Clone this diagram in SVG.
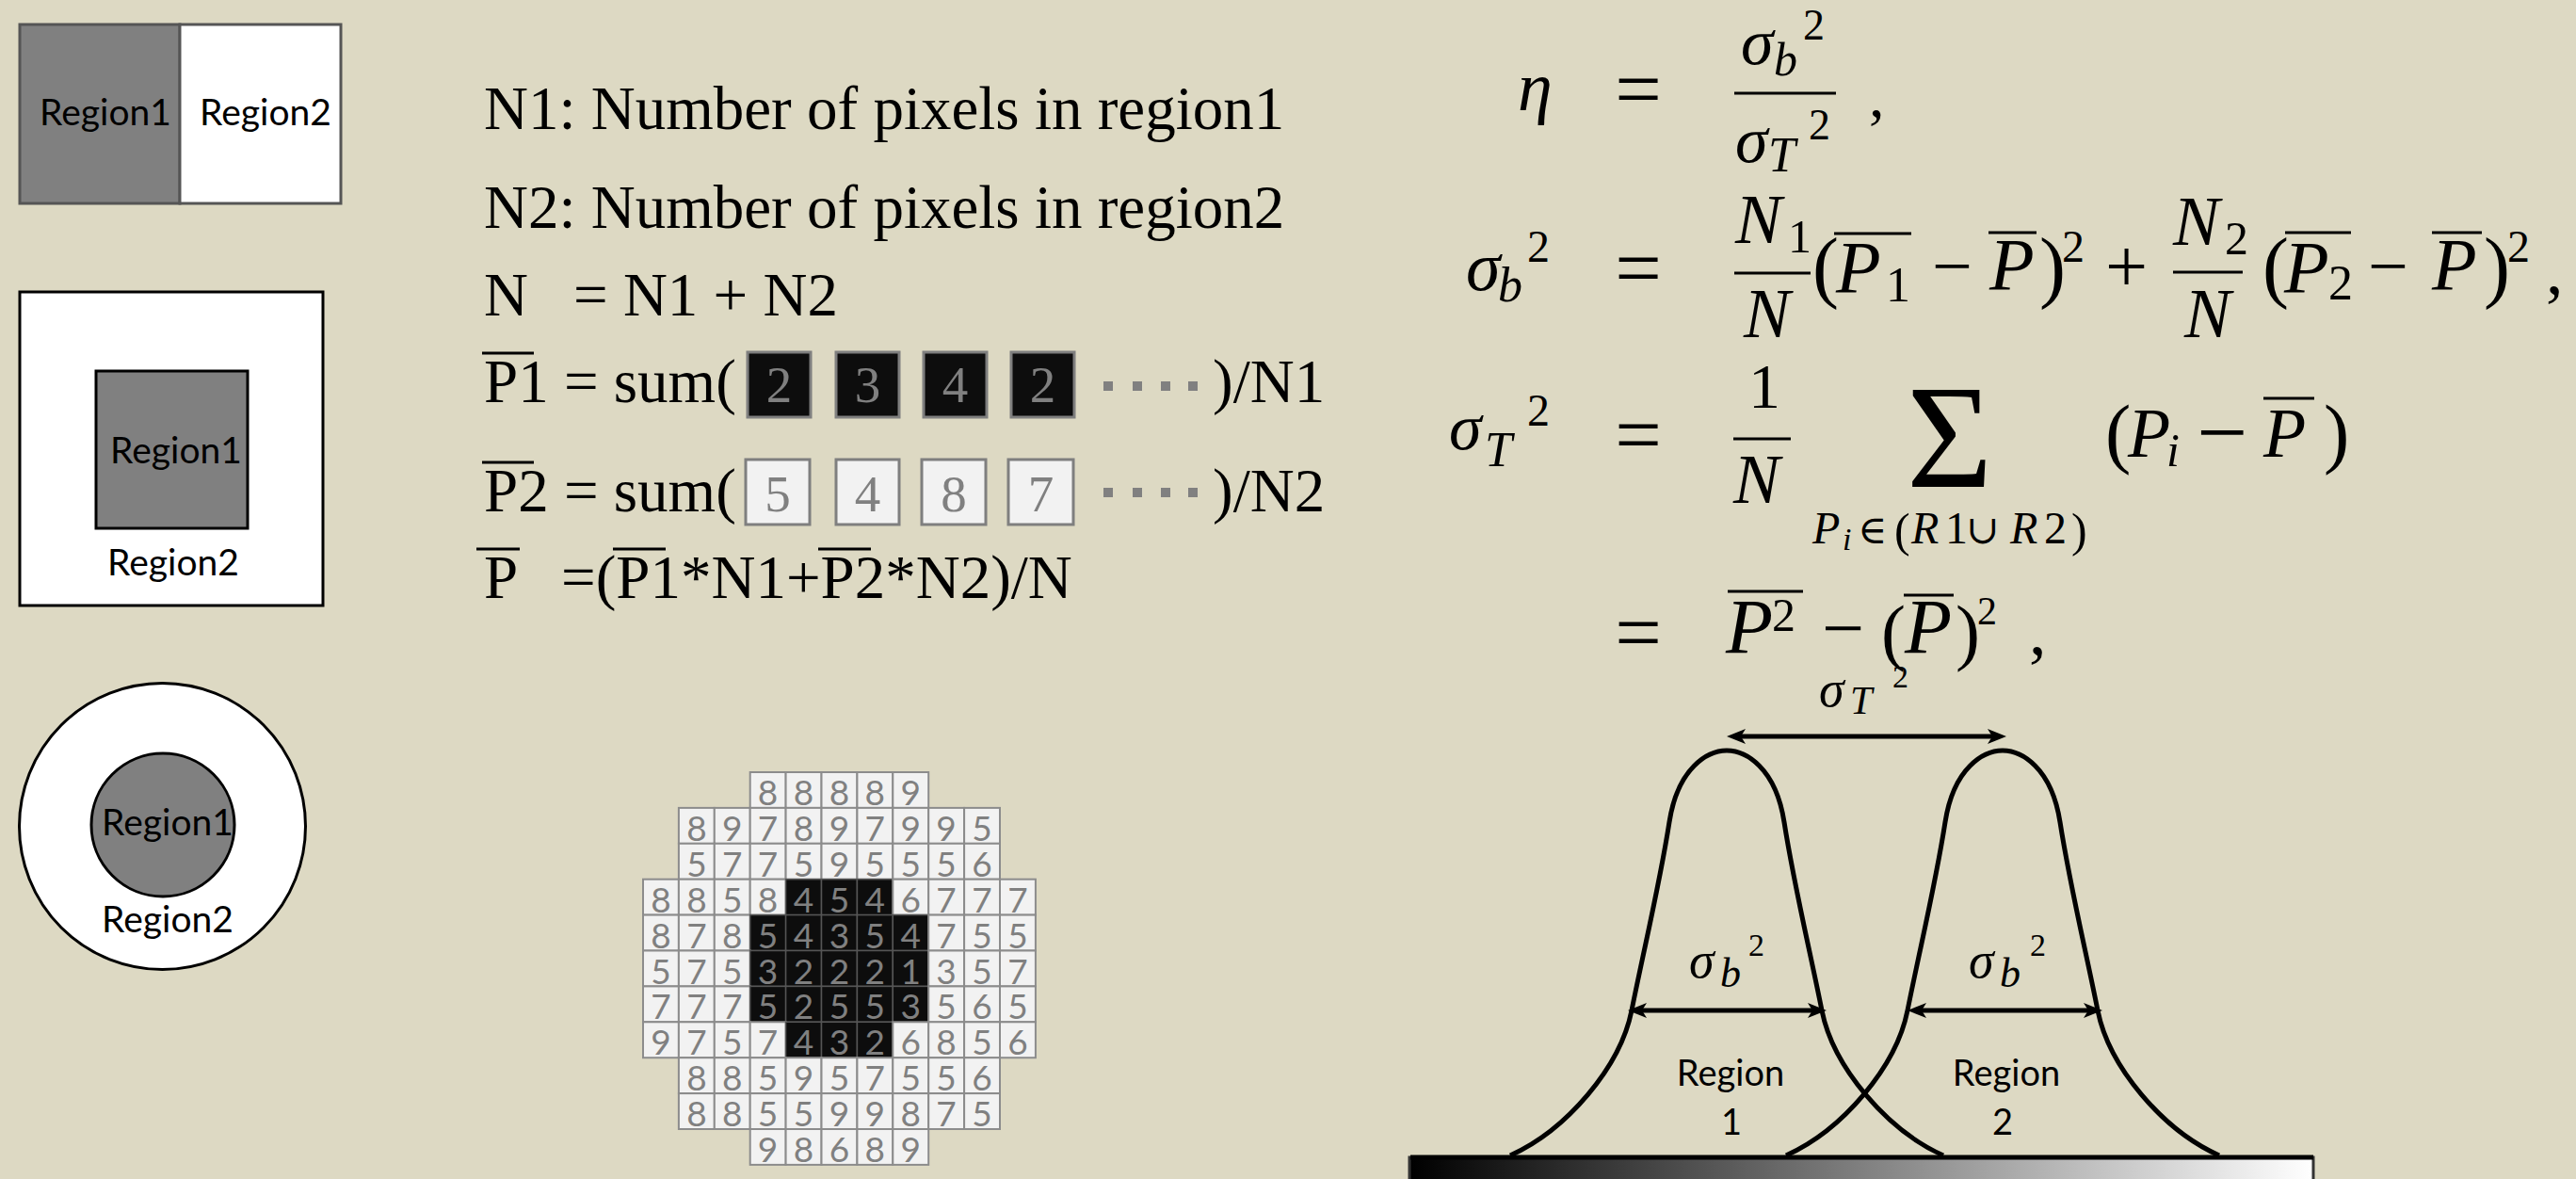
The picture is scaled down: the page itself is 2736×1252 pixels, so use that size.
<svg xmlns="http://www.w3.org/2000/svg" width="2736" height="1252" viewBox="0 0 2736 1252">
<defs>
<style>
.cal{font-family:Lato,"Open Sans","Liberation Sans",sans-serif;fill:#000}
.tm{font-family:"Liberation Serif","Times New Roman",serif;font-size:65px;fill:#000}
.mi{font-family:"Liberation Serif","Times New Roman",serif;font-style:italic;fill:#000}
.mr{font-family:"Liberation Serif","Times New Roman",serif;fill:#000}
.ms{font-family:"DejaVu Serif",serif;fill:#000}
.ov{stroke:#000;stroke-width:3}
.cl{fill:#f2f2f2;stroke:#8c8c8c;stroke-width:2}
.cd{fill:#0d0d0d;stroke:#555;stroke-width:1.5}
.dg{font-family:Lato,"Liberation Sans",sans-serif;font-size:37px;fill:#808080;text-anchor:middle}
.bxd{fill:#0d0d0d;stroke:#7f7f7f;stroke-width:3}
.bxl{fill:#f2f2f2;stroke:#7f7f7f;stroke-width:3}
.bt{font-family:"Liberation Serif",serif;font-size:55px;fill:#808080;text-anchor:middle}
.dot{fill:#808080}
.curve{fill:none;stroke:#000;stroke-width:5;stroke-linejoin:round}
.arr{stroke:#000;stroke-width:5;marker-start:url(#ah);marker-end:url(#ah)}
</style>
<marker id="ah" viewBox="0 0 20 16" refX="5" refY="8" markerWidth="20" markerHeight="16" markerUnits="userSpaceOnUse" orient="auto-start-reverse"><path d="M0,0 L20,8 L0,16 L5,8 Z" fill="#000"/></marker>
<linearGradient id="grad" x1="0" x2="1" y1="0" y2="0"><stop offset="0" stop-color="#000"/><stop offset="1" stop-color="#fff"/></linearGradient>
</defs>
<rect x="0" y="0" width="2736" height="1252" fill="#ddd9c3"/>

<g id="box-split">
<rect x="21" y="26" width="170" height="190" fill="#808080" stroke="#555" stroke-width="3"/>
<rect x="191" y="26" width="171" height="190" fill="#fff" stroke="#555" stroke-width="3"/>
<text class="cal" x="112" y="133" font-size="39" text-anchor="middle">Region1</text>
<text class="cal" x="282" y="133" font-size="39" text-anchor="middle">Region2</text>
</g>

<g id="box-nested">
<rect x="21" y="310" width="322" height="333" fill="#fff" stroke="#000" stroke-width="3"/>
<rect x="102" y="394" width="161" height="167" fill="#808080" stroke="#000" stroke-width="3"/>
<text class="cal" x="187" y="492" font-size="39" text-anchor="middle">Region1</text>
<text class="cal" x="184" y="611" font-size="39" text-anchor="middle">Region2</text>
</g>

<g id="circle-nested">
<circle cx="172.5" cy="877.5" r="152" fill="#fff" stroke="#000" stroke-width="3"/>
<circle cx="173" cy="876" r="76" fill="#808080" stroke="#000" stroke-width="3"/>
<text class="cal" x="178" y="887" font-size="39" text-anchor="middle">Region1</text>
<text class="cal" x="178" y="990" font-size="39" text-anchor="middle">Region2</text>
</g>

<g id="definitions">
<text class="tm" x="514" y="137">N1: Number of pixels in region1</text>
<text class="tm" x="514" y="242">N2: Number of pixels in region2</text>
<text class="tm" x="514" y="335">N</text>
<text class="tm" x="609" y="335">= N1 + N2</text>
<line class="ov" x1="512" y1="375" x2="567" y2="375"/>
<text class="tm" x="514" y="427">P1 = sum(</text>
<rect class="bxd" x="794" y="374" width="67" height="69"/>
<rect class="bxd" x="888" y="374" width="67" height="69"/>
<rect class="bxd" x="981" y="374" width="67" height="69"/>
<rect class="bxd" x="1074" y="374" width="67" height="69"/>
<text class="bt" x="827.5 921.5 1014.5 1107.5" y="427">2342</text>
<rect class="dot" x="1172" y="405" width="10" height="10"/>
<rect class="dot" x="1203" y="405" width="10" height="10"/>
<rect class="dot" x="1233" y="405" width="10" height="10"/>
<rect class="dot" x="1262" y="405" width="10" height="10"/>
<text class="tm" x="1288" y="427">)/N1</text>
<line class="ov" x1="512" y1="491" x2="567" y2="491"/>
<text class="tm" x="514" y="543">P2 = sum(</text>
<rect class="bxl" x="792" y="488" width="68" height="69"/>
<rect class="bxl" x="888" y="488" width="67" height="69"/>
<rect class="bxl" x="979" y="488" width="68" height="69"/>
<rect class="bxl" x="1071" y="488" width="69" height="69"/>
<text class="bt" x="826 921.5 1013 1105.5" y="543">5487</text>
<rect class="dot" x="1172" y="518" width="10" height="10"/>
<rect class="dot" x="1203" y="518" width="10" height="10"/>
<rect class="dot" x="1233" y="518" width="10" height="10"/>
<rect class="dot" x="1262" y="518" width="10" height="10"/>
<text class="tm" x="1288" y="543">)/N2</text>
<line class="ov" x1="506" y1="583" x2="552" y2="583"/>
<line class="ov" x1="651" y1="583" x2="707" y2="583"/>
<line class="ov" x1="869" y1="583" x2="925" y2="583"/>
<text class="tm" x="514" y="635">P</text>
<text class="tm" x="596" y="635">=(P1*N1+P2*N2)/N</text>
</g>

<g id="pixel-grid">
<rect class="cl" x="796.7" y="820" width="37.9" height="37.9"/><rect class="cl" x="834.6" y="820" width="37.9" height="37.9"/><rect class="cl" x="872.5" y="820" width="37.9" height="37.9"/><rect class="cl" x="910.4" y="820" width="37.9" height="37.9"/><rect class="cl" x="948.3" y="820" width="37.9" height="37.9"/>
<rect class="cl" x="720.9" y="857.9" width="37.9" height="37.9"/><rect class="cl" x="758.8" y="857.9" width="37.9" height="37.9"/><rect class="cl" x="796.7" y="857.9" width="37.9" height="37.9"/><rect class="cl" x="834.6" y="857.9" width="37.9" height="37.9"/><rect class="cl" x="872.5" y="857.9" width="37.9" height="37.9"/><rect class="cl" x="910.4" y="857.9" width="37.9" height="37.9"/><rect class="cl" x="948.3" y="857.9" width="37.9" height="37.9"/><rect class="cl" x="986.2" y="857.9" width="37.9" height="37.9"/><rect class="cl" x="1024.1" y="857.9" width="37.9" height="37.9"/>
<rect class="cl" x="720.9" y="895.8" width="37.9" height="37.9"/><rect class="cl" x="758.8" y="895.8" width="37.9" height="37.9"/><rect class="cl" x="796.7" y="895.8" width="37.9" height="37.9"/><rect class="cl" x="834.6" y="895.8" width="37.9" height="37.9"/><rect class="cl" x="872.5" y="895.8" width="37.9" height="37.9"/><rect class="cl" x="910.4" y="895.8" width="37.9" height="37.9"/><rect class="cl" x="948.3" y="895.8" width="37.9" height="37.9"/><rect class="cl" x="986.2" y="895.8" width="37.9" height="37.9"/><rect class="cl" x="1024.1" y="895.8" width="37.9" height="37.9"/>
<rect class="cl" x="683" y="933.7" width="37.9" height="37.9"/><rect class="cl" x="720.9" y="933.7" width="37.9" height="37.9"/><rect class="cl" x="758.8" y="933.7" width="37.9" height="37.9"/><rect class="cl" x="796.7" y="933.7" width="37.9" height="37.9"/><rect class="cd" x="834.6" y="933.7" width="37.9" height="37.9"/><rect class="cd" x="872.5" y="933.7" width="37.9" height="37.9"/><rect class="cd" x="910.4" y="933.7" width="37.9" height="37.9"/><rect class="cl" x="948.3" y="933.7" width="37.9" height="37.9"/><rect class="cl" x="986.2" y="933.7" width="37.9" height="37.9"/><rect class="cl" x="1024.1" y="933.7" width="37.9" height="37.9"/><rect class="cl" x="1062" y="933.7" width="37.9" height="37.9"/>
<rect class="cl" x="683" y="971.6" width="37.9" height="37.9"/><rect class="cl" x="720.9" y="971.6" width="37.9" height="37.9"/><rect class="cl" x="758.8" y="971.6" width="37.9" height="37.9"/><rect class="cd" x="796.7" y="971.6" width="37.9" height="37.9"/><rect class="cd" x="834.6" y="971.6" width="37.9" height="37.9"/><rect class="cd" x="872.5" y="971.6" width="37.9" height="37.9"/><rect class="cd" x="910.4" y="971.6" width="37.9" height="37.9"/><rect class="cd" x="948.3" y="971.6" width="37.9" height="37.9"/><rect class="cl" x="986.2" y="971.6" width="37.9" height="37.9"/><rect class="cl" x="1024.1" y="971.6" width="37.9" height="37.9"/><rect class="cl" x="1062" y="971.6" width="37.9" height="37.9"/>
<rect class="cl" x="683" y="1009.5" width="37.9" height="37.9"/><rect class="cl" x="720.9" y="1009.5" width="37.9" height="37.9"/><rect class="cl" x="758.8" y="1009.5" width="37.9" height="37.9"/><rect class="cd" x="796.7" y="1009.5" width="37.9" height="37.9"/><rect class="cd" x="834.6" y="1009.5" width="37.9" height="37.9"/><rect class="cd" x="872.5" y="1009.5" width="37.9" height="37.9"/><rect class="cd" x="910.4" y="1009.5" width="37.9" height="37.9"/><rect class="cd" x="948.3" y="1009.5" width="37.9" height="37.9"/><rect class="cl" x="986.2" y="1009.5" width="37.9" height="37.9"/><rect class="cl" x="1024.1" y="1009.5" width="37.9" height="37.9"/><rect class="cl" x="1062" y="1009.5" width="37.9" height="37.9"/>
<rect class="cl" x="683" y="1047.4" width="37.9" height="37.9"/><rect class="cl" x="720.9" y="1047.4" width="37.9" height="37.9"/><rect class="cl" x="758.8" y="1047.4" width="37.9" height="37.9"/><rect class="cd" x="796.7" y="1047.4" width="37.9" height="37.9"/><rect class="cd" x="834.6" y="1047.4" width="37.9" height="37.9"/><rect class="cd" x="872.5" y="1047.4" width="37.9" height="37.9"/><rect class="cd" x="910.4" y="1047.4" width="37.9" height="37.9"/><rect class="cd" x="948.3" y="1047.4" width="37.9" height="37.9"/><rect class="cl" x="986.2" y="1047.4" width="37.9" height="37.9"/><rect class="cl" x="1024.1" y="1047.4" width="37.9" height="37.9"/><rect class="cl" x="1062" y="1047.4" width="37.9" height="37.9"/>
<rect class="cl" x="683" y="1085.3" width="37.9" height="37.9"/><rect class="cl" x="720.9" y="1085.3" width="37.9" height="37.9"/><rect class="cl" x="758.8" y="1085.3" width="37.9" height="37.9"/><rect class="cl" x="796.7" y="1085.3" width="37.9" height="37.9"/><rect class="cd" x="834.6" y="1085.3" width="37.9" height="37.9"/><rect class="cd" x="872.5" y="1085.3" width="37.9" height="37.9"/><rect class="cd" x="910.4" y="1085.3" width="37.9" height="37.9"/><rect class="cl" x="948.3" y="1085.3" width="37.9" height="37.9"/><rect class="cl" x="986.2" y="1085.3" width="37.9" height="37.9"/><rect class="cl" x="1024.1" y="1085.3" width="37.9" height="37.9"/><rect class="cl" x="1062" y="1085.3" width="37.9" height="37.9"/>
<rect class="cl" x="720.9" y="1123.2" width="37.9" height="37.9"/><rect class="cl" x="758.8" y="1123.2" width="37.9" height="37.9"/><rect class="cl" x="796.7" y="1123.2" width="37.9" height="37.9"/><rect class="cl" x="834.6" y="1123.2" width="37.9" height="37.9"/><rect class="cl" x="872.5" y="1123.2" width="37.9" height="37.9"/><rect class="cl" x="910.4" y="1123.2" width="37.9" height="37.9"/><rect class="cl" x="948.3" y="1123.2" width="37.9" height="37.9"/><rect class="cl" x="986.2" y="1123.2" width="37.9" height="37.9"/><rect class="cl" x="1024.1" y="1123.2" width="37.9" height="37.9"/>
<rect class="cl" x="720.9" y="1161.1" width="37.9" height="37.9"/><rect class="cl" x="758.8" y="1161.1" width="37.9" height="37.9"/><rect class="cl" x="796.7" y="1161.1" width="37.9" height="37.9"/><rect class="cl" x="834.6" y="1161.1" width="37.9" height="37.9"/><rect class="cl" x="872.5" y="1161.1" width="37.9" height="37.9"/><rect class="cl" x="910.4" y="1161.1" width="37.9" height="37.9"/><rect class="cl" x="948.3" y="1161.1" width="37.9" height="37.9"/><rect class="cl" x="986.2" y="1161.1" width="37.9" height="37.9"/><rect class="cl" x="1024.1" y="1161.1" width="37.9" height="37.9"/>
<rect class="cl" x="796.7" y="1199" width="37.9" height="37.9"/><rect class="cl" x="834.6" y="1199" width="37.9" height="37.9"/><rect class="cl" x="872.5" y="1199" width="37.9" height="37.9"/><rect class="cl" x="910.4" y="1199" width="37.9" height="37.9"/><rect class="cl" x="948.3" y="1199" width="37.9" height="37.9"/>
<text class="dg" x="815.6 853.5 891.4 929.3 967.2" y="855">88889</text>
<text class="dg" x="739.9 777.7 815.6 853.5 891.4 929.3 967.2 1005.1 1043" y="892.9">897897995</text>
<text class="dg" x="739.9 777.7 815.6 853.5 891.4 929.3 967.2 1005.1 1043" y="930.8">577595556</text>
<text class="dg" x="702 739.9 777.7 815.6 853.5 891.4 929.3 967.2 1005.1 1043 1080.9" y="968.7">88584546777</text>
<text class="dg" x="702 739.9 777.7 815.6 853.5 891.4 929.3 967.2 1005.1 1043 1080.9" y="1006.6">87854354755</text>
<text class="dg" x="702 739.9 777.7 815.6 853.5 891.4 929.3 967.2 1005.1 1043 1080.9" y="1044.5">57532221357</text>
<text class="dg" x="702 739.9 777.7 815.6 853.5 891.4 929.3 967.2 1005.1 1043 1080.9" y="1082.4">77752553565</text>
<text class="dg" x="702 739.9 777.7 815.6 853.5 891.4 929.3 967.2 1005.1 1043 1080.9" y="1120.3">97574326856</text>
<text class="dg" x="739.9 777.7 815.6 853.5 891.4 929.3 967.2 1005.1 1043" y="1158.2">885957556</text>
<text class="dg" x="739.9 777.7 815.6 853.5 891.4 929.3 967.2 1005.1 1043" y="1196.1">885599875</text>
<text class="dg" x="815.6 853.5 891.4 929.3 967.2" y="1234">98689</text>
</g>

<g id="eq-eta">
<text class="mi" x="1612" y="117" font-size="74">η</text>
<text class="mr" x="1740" y="124" font-size="88" text-anchor="middle">=</text>
<text class="mi" x="1849" y="68" font-size="70">σ</text>
<text class="mi" x="1884" y="80" font-size="50">b</text>
<text class="mr" x="1915" y="42" font-size="46">2</text>
<line class="ov" x1="1842" y1="99" x2="1950" y2="99"/>
<text class="mi" x="1843" y="172" font-size="70">σ</text>
<text class="mi" x="1878" y="182" font-size="52">T</text>
<text class="mr" x="1921" y="148" font-size="46">2</text>
<text class="mr" x="1985" y="124" font-size="66">,</text>
</g>

<g id="eq-sigma-b">
<text class="mi" x="1557" y="308" font-size="74">σ</text>
<text class="mi" x="1591" y="320" font-size="52">b</text>
<text class="mr" x="1622" y="278" font-size="48">2</text>
<text class="mr" x="1740" y="314" font-size="88" text-anchor="middle">=</text>
<text class="mi" x="1843" y="258" font-size="74">N</text>
<text class="mr" x="1899" y="268" font-size="50">1</text>
<line class="ov" x1="1842" y1="290" x2="1923" y2="290"/>
<text class="mi" x="1852" y="358" font-size="74">N</text>
<text class="mr" x="1925" y="311" font-size="84">(</text>
<line class="ov" x1="1948" y1="248" x2="2030" y2="248"/>
<text class="mi" x="1950" y="310" font-size="78">P</text>
<text class="mr" x="2003" y="320" font-size="52">1</text>
<text class="mr" x="2052" y="308" font-size="76">−</text>
<line class="ov" x1="2112" y1="247" x2="2163" y2="247"/>
<text class="mi" x="2113" y="307" font-size="78">P</text>
<text class="mr" x="2166" y="311" font-size="84">)</text>
<text class="mr" x="2190" y="278" font-size="48">2</text>
<text class="mr" x="2236" y="310" font-size="80">+</text>
<text class="mi" x="2308" y="260" font-size="74">N</text>
<text class="mr" x="2363" y="270" font-size="50">2</text>
<line class="ov" x1="2308" y1="289" x2="2382" y2="289"/>
<text class="mi" x="2320" y="358" font-size="74">N</text>
<text class="mr" x="2403" y="311" font-size="84">(</text>
<line class="ov" x1="2427" y1="247" x2="2497" y2="247"/>
<text class="mi" x="2426" y="310" font-size="78">P</text>
<text class="mr" x="2473" y="318" font-size="52">2</text>
<text class="mr" x="2515" y="308" font-size="76">−</text>
<line class="ov" x1="2583" y1="247" x2="2636" y2="247"/>
<text class="mi" x="2583" y="307" font-size="78">P</text>
<text class="mr" x="2638" y="311" font-size="84">)</text>
<text class="mr" x="2663" y="278" font-size="48">2</text>
<text class="mr" x="2704" y="312" font-size="74">,</text>
</g>

<g id="eq-sigma-t">
<text class="mi" x="1539" y="477" font-size="70">σ</text>
<text class="mi" x="1577" y="495" font-size="52">T</text>
<text class="mr" x="1622" y="452" font-size="48">2</text>
<text class="mr" x="1740" y="491" font-size="88" text-anchor="middle">=</text>
<text class="mr" x="1857" y="433" font-size="68">1</text>
<line class="ov" x1="1841" y1="466" x2="1902" y2="466"/>
<text class="mi" x="1841" y="534" font-size="74">N</text>
<text class="mr" x="2025" y="517" font-size="157">Σ</text>
<text class="mi" x="1925" y="577" font-size="48">P</text>
<text class="mi" x="1957" y="584" font-size="34">i</text>
<text class="ms" x="1973" y="577" font-size="42">∈</text>
<text class="mr" x="2012" y="580" font-size="50">(</text>
<text class="mi" x="2030" y="577" font-size="48">R</text>
<text class="mr" x="2066" y="577" font-size="48">1</text>
<text class="ms" x="2088" y="577" font-size="42">∪</text>
<text class="mi" x="2135" y="577" font-size="48">R</text>
<text class="mr" x="2171" y="577" font-size="48">2</text>
<text class="mr" x="2200" y="580" font-size="50">)</text>
<text class="mr" x="2236" y="487" font-size="82">(</text>
<text class="mi" x="2260" y="485" font-size="74">P</text>
<text class="mi" x="2301" y="495" font-size="50">i</text>
<text class="mr" x="2333" y="491" font-size="96">−</text>
<line class="ov" x1="2404" y1="423" x2="2458" y2="423"/>
<text class="mi" x="2404" y="485" font-size="74">P</text>
<text class="mr" x="2468" y="487" font-size="82">)</text>
</g>

<g id="eq-sigma-t-expanded">
<text class="mr" x="1740" y="701" font-size="88" text-anchor="middle">=</text>
<line class="ov" x1="1835" y1="628" x2="1915" y2="628"/>
<text class="mi" x="1833" y="693" font-size="82">P</text>
<text class="mr" x="1882" y="670" font-size="50">2</text>
<text class="mr" x="1935" y="694" font-size="80">−</text>
<text class="mr" x="1998" y="697" font-size="78">(</text>
<line class="ov" x1="2022" y1="632" x2="2075" y2="632"/>
<text class="mi" x="2023" y="693" font-size="82">P</text>
<text class="mr" x="2077" y="697" font-size="78">)</text>
<text class="mr" x="2100" y="663" font-size="42">2</text>
<text class="mr" x="2155" y="695" font-size="74">,</text>
</g>

<g id="histogram">
<rect x="1497" y="1229" width="960" height="30" fill="url(#grad)" stroke="#333" stroke-width="3"/>
<line x1="1498" y1="1229" x2="2457" y2="1229" stroke="#000" stroke-width="5"/>
<path class="curve" d="M1604,1227 C1664,1200 1721,1133 1733,1073 C1746.4,1006 1762.6,940 1773,873 C1782,815 1814,797 1834,797 C1854,797 1886,815 1895,873 C1905.4,940 1921.6,1006 1935,1073 C1947,1133 2004,1200 2064,1227"/>
<path class="curve" d="M1897,1227 C1957,1200 2014,1133 2026,1073 C2039.4,1006 2055.6,940 2066,873 C2075,815 2107,797 2127,797 C2147,797 2179,815 2188,873 C2198.4,940 2214.6,1006 2228,1073 C2240,1133 2297,1200 2357,1227"/>
<text class="mi" x="1932" y="750" font-size="54">σ</text>
<text class="mi" x="1965" y="758" font-size="42">T</text>
<text class="mr" x="2010" y="730" font-size="34">2</text>
<text class="mi" x="1794" y="1038" font-size="54">σ</text>
<text class="mi" x="1827" y="1048" font-size="44">b</text>
<text class="mr" x="1857" y="1015" font-size="34">2</text>
<text class="mi" x="2091" y="1038" font-size="54">σ</text>
<text class="mi" x="2124" y="1048" font-size="44">b</text>
<text class="mr" x="2156" y="1015" font-size="34">2</text>
<text class="cal" x="1838" y="1153" font-size="38" text-anchor="middle">Region</text>
<text class="cal" x="1839" y="1205" font-size="38" text-anchor="middle">1</text>
<text class="cal" x="2131" y="1153" font-size="38" text-anchor="middle">Region</text>
<text class="cal" x="2127" y="1205" font-size="38" text-anchor="middle">2</text>
</g>

<g id="connectors">
<line class="arr" x1="1849" y1="782" x2="2116" y2="782"/>
<line class="arr" x1="1744" y1="1073" x2="1925" y2="1073"/>
<line class="arr" x1="2041" y1="1073" x2="2218" y2="1073"/>
</g>
</svg>
